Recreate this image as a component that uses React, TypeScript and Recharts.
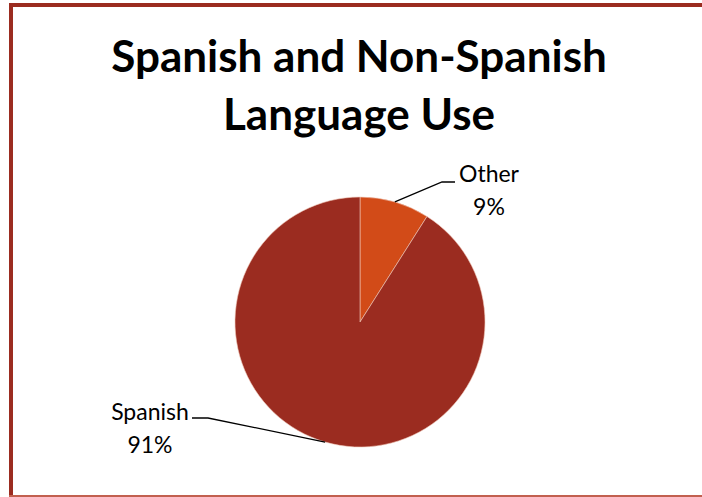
import { PieChart, Pie, Cell } from "recharts";

const languages = ["Other", "Spanish"];
const shares = [9, 91];
const sliceColors = ["#D24B18", "#9B2C20"];

const data = languages.map((name, i) => ({ name, value: shares[i] }));

// where each leader line bends and where its text sits, relative to the pie centre
const labelLayout: Record<string, { elbow: [number, number]; end: [number, number]; text: [number, number] }> = {
  Other: { elbow: [82, -140], end: [95, -140], text: [129, -140] },
  Spanish: { elbow: [-152, 96], end: [-168, 96], text: [-210, 98] },
};

const RADIAN = Math.PI / 180;
const font = "Lato, 'Open Sans', sans-serif";

const renderLabel = (props: any) => {
  const { cx, cy, midAngle, outerRadius, name, percent } = props;
  const lay = labelLayout[name];
  const sx = cx + outerRadius * Math.cos(-midAngle * RADIAN);
  const sy = cy + outerRadius * Math.sin(-midAngle * RADIAN);
  const ex = cx + lay.elbow[0];
  const ey = cy + lay.elbow[1];
  const hx = cx + lay.end[0];
  const tx = cx + lay.text[0];
  const ty = cy + lay.text[1];
  return (
    <g>
      <polyline points={`${sx},${sy} ${ex},${ey} ${hx},${ey}`} fill="none" stroke="#000" strokeWidth={1.3} />
      <text x={tx} y={ty} textAnchor="middle" fontFamily={font} fontSize={23} fill="#000">
        {name}
      </text>
      <text x={tx} y={ty + 33} textAnchor="middle" fontFamily={font} fontSize={23} fill="#000">
        {`${Math.round(percent * 100)}%`}
      </text>
    </g>
  );
};

export default function App() {
  return (
    <div style={{ position: "absolute", left: 0, top: 0, width: 702, height: 497, background: "#fff" }}>
      <div style={{ position: "absolute", left: 9, top: 3, width: 693, height: 4, background: "#9B2C20" }} />
      <div style={{ position: "absolute", left: 9, top: 3, width: 4, height: 494, background: "#9B2C20" }} />
      <div style={{ position: "absolute", left: 9, top: 495, width: 693, height: 2, background: "#C2604F" }} />
      <div
        style={{
          position: "absolute",
          left: 0,
          top: 26,
          width: 718,
          textAlign: "center",
          fontFamily: font,
          fontWeight: 700,
          fontSize: 44,
          lineHeight: "58px",
          color: "#000",
        }}
      >
        Spanish and Non-Spanish
        <br />
        Language Use
      </div>
      <div style={{ position: "absolute", left: 0, top: 0 }}>
        <PieChart width={702} height={497} margin={{ top: 0, right: 0, bottom: 0, left: 0 }}>
          <Pie
            data={data}
            dataKey="value"
            nameKey="name"
            cx={360}
            cy={322}
            outerRadius={125}
            startAngle={90}
            endAngle={-270}
            stroke="#f0c8b8"
            strokeWidth={0.6}
            isAnimationActive={false}
            label={renderLabel}
            labelLine={false}
          >
            {data.map((d, i) => (
              <Cell key={d.name} fill={sliceColors[i]} />
            ))}
          </Pie>
        </PieChart>
      </div>
    </div>
  );
}
